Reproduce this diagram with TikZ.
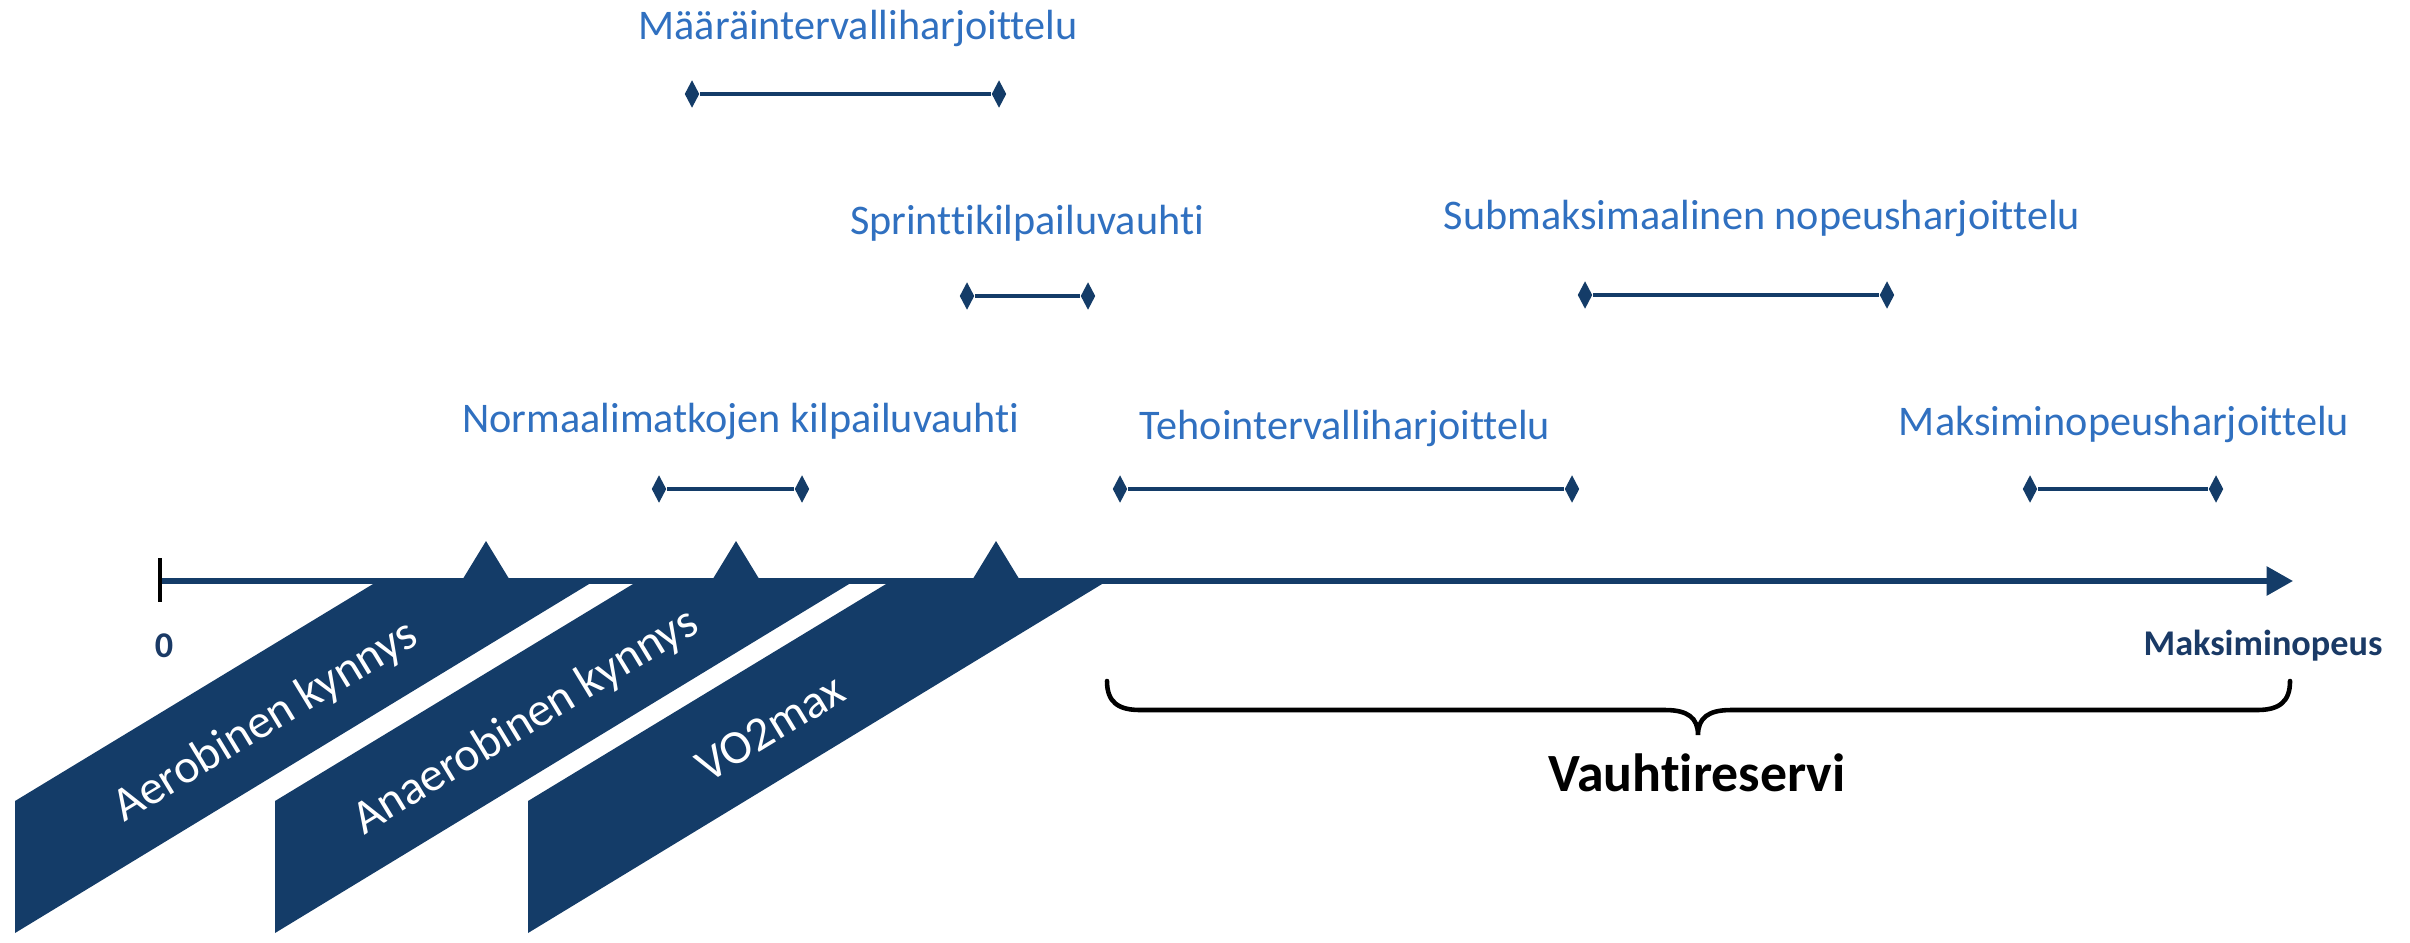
\documentclass[tikz,border=0pt]{standalone}
\usepackage{fontspec}
\setmainfont[Ligatures=NoCommon]{Carlito}
\usetikzlibrary{arrows.meta,shapes.geometric}
\definecolor{navy}{RGB}{20,60,104}
\definecolor{lblue}{RGB}{48,112,192}
\definecolor{dnavy}{RGB}{26,58,102}
\begin{document}
\begin{tikzpicture}[x=0.01cm,y=-0.01cm,
  lbl/.style={text=lblue,font=\fontsize{12}{14}\selectfont,inner sep=0pt},
  dia/.style={diamond,fill=navy,inner sep=0pt,minimum width=0.15cm,minimum height=0.28cm},
  rng/.style={draw=navy,line width=0.9pt},
  band/.style={fill=navy},
  bandtext/.style={text=white,font=\fontsize{13.6}{16}\selectfont,rotate=31.3,inner sep=0pt},
  axlbl/.style={text=dnavy,font=\fontsize{10.3}{12}\selectfont\bfseries,inner sep=0pt},
  thr/.style={fill=navy}]
\useasboundingbox (0,0) rectangle (2410,942);
% bands
\fill[band] (378,581) -- (594,581) -- (15,933) -- (15,801) -- cycle;
\fill[band] (638,581) -- (854,581) -- (275,933) -- (275,801) -- cycle;
\fill[band] (891,581) -- (1107,581) -- (528,933) -- (528,801) -- cycle;
\node[bandtext] (t1) at (266,722) {Aerobinen kynnys};
\node[bandtext] (t2) at (526,722) {Anaerobinen kynnys};
\node[bandtext] (t3) at (770,728) {VO2max};
% axis
\coordinate (a0) at (160,581);
\coordinate (a1) at (2293,581);
\draw[navy,line width=1.5pt,-{Triangle[length=7.5pt,width=8pt]}] (a0) -- (a1);
\draw[black,line width=1.2pt] (160,558) -- (160,602);
% threshold triangles
\fill[thr] (461,582) -- (486,541) -- (511,582) -- cycle;
\fill[thr] (711,582) -- (736,541) -- (761,582) -- cycle;
\fill[thr] (971,582) -- (996,541) -- (1021,582) -- cycle;
\node[axlbl] (zero) at (164,646) {0};
\node[axlbl] (max) at (2263,646) {Maksiminopeus};
% ranges
\node[lbl] (l1) at (858,28) {Määräintervalliharjoittelu};
\node[dia] (d1a) at (692,94) {}; \node[dia] (d1b) at (999,94) {};
\draw[rng] (d1a) -- (d1b);
\node[lbl] (l2) at (1027,223) {Sprinttikilpailuvauhti};
\node[dia] (d2a) at (967,296) {}; \node[dia] (d2b) at (1088,296) {};
\draw[rng] (d2a) -- (d2b);
\node[lbl] (l3) at (1762,218) {Submaksimaalinen nopeusharjoittelu};
\node[dia] (d3a) at (1585,295) {}; \node[dia] (d3b) at (1887,295) {};
\draw[rng] (d3a) -- (d3b);
\node[lbl] (l4) at (741,421) {Normaalimatkojen kilpailuvauhti};
\node[dia] (d4a) at (659,489) {}; \node[dia] (d4b) at (802,489) {};
\draw[rng] (d4a) -- (d4b);
\node[lbl] (l5) at (1345,428) {Tehointervalliharjoittelu};
\node[dia] (d5a) at (1120,489) {}; \node[dia] (d5b) at (1572,489) {};
\draw[rng] (d5a) -- (d5b);
\node[lbl] (l6) at (2124,424) {Maksiminopeusharjoittelu};
\node[dia] (d6a) at (2030,489) {}; \node[dia] (d6b) at (2216,489) {};
\draw[rng] (d6a) -- (d6b);
% brace
\draw[black,line width=1.3pt,line cap=round]
  (1107,681) .. controls (1107,702) and (1118,710) .. (1140,710) -- (1665,710)
  .. controls (1688,710) and (1698,718) .. (1698,735)
  .. controls (1698,718) and (1708,710) .. (1731,710) -- (2257,710)
  .. controls (2279,710) and (2290,702) .. (2290,681);
\node[font=\fontsize{15.3}{18}\selectfont\bfseries,inner sep=0pt] (vr) at (1697,773) {Vauhtireservi};
\end{tikzpicture}
\end{document}
